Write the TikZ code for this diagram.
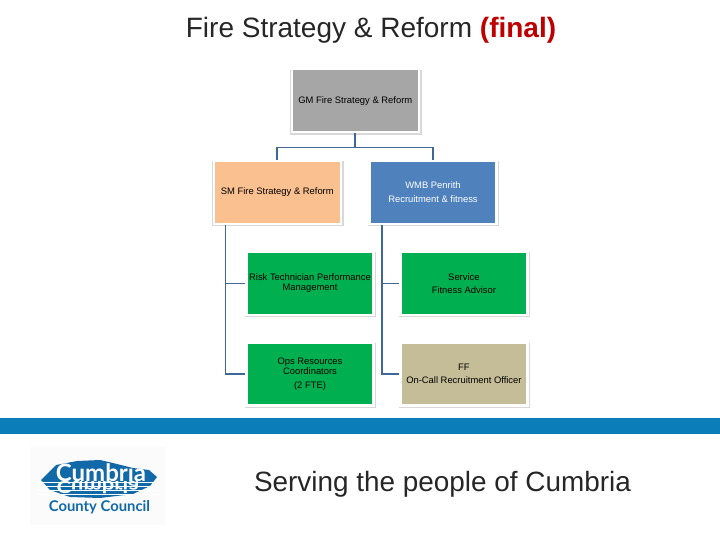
\documentclass[tikz,border=0pt]{standalone}
\usepackage{fontspec}
\setmainfont{Liberation Sans}
\newfontfamily\logofont{Lato}
\usepackage{xcolor}
\definecolor{cGrey}{HTML}{A6A6A6}
\definecolor{cPeach}{HTML}{FAC090}
\definecolor{cBlue}{HTML}{4F81BD}
\definecolor{cGreen}{HTML}{00B050}
\definecolor{cTan}{HTML}{C4BD97}
\definecolor{cLine}{HTML}{3F6797}
\definecolor{cBand}{HTML}{0B7DB8}
\definecolor{cLogo}{HTML}{1269A8}
\definecolor{cText}{HTML}{262626}
\usetikzlibrary{positioning,calc,shadows}
\tikzset{
  node-box/.style={draw=white,line width=2.4pt,minimum width=127pt,
    minimum height=63pt,inner sep=0pt,align=center,font=\fontsize{9.4}{10}\selectfont,
    drop shadow={shadow xshift=0.5pt,shadow yshift=-1.4pt,shadow scale=1.035,fill=black!30,opacity=.5}},
  link/.style={draw=cLine,line width=1.4pt},
  link-top/.style={draw=cLine,line width=1.8pt},
}
\begin{document}
\begin{tikzpicture}[x=1pt,y=-1pt]
  \useasboundingbox (0,0) rectangle (720,540);
  \node[font=\fontsize{28}{32}\selectfont,text=cText] (title) at (371,30) {Fire Strategy \& Reform \textcolor{red!75!black}{\textbf{(final)}}};
  % chart
  \node[node-box,fill=cGrey] (gm) at (355.3,100.8) {GM Fire Strategy \& Reform};
  \node[node-box,fill=cPeach] (sm) at (277.3,192.3) {SM Fire Strategy \& Reform};
  \node[node-box,fill=cBlue,text=white] (wmb) at (433,192.3) {WMB Penrith\\[4pt]Recruitment \& fitness};
  \node[node-box,fill=cGreen] (risk) at (310,283.2) {Risk Technician Performance\\Management};
  \node[node-box,fill=cGreen,right=24.5pt of risk] (service) {Service\\[3pt]Fitness Advisor};
  \node[node-box,fill=cGreen,below=25.5pt of risk] (ops) {Ops Resources\\Coordinators\\[4pt](2 FTE)};
  \node[node-box,fill=cTan,below=25.5pt of service] (ff) {FF\\[3pt]On-Call Recruitment Officer};
  \coordinate (bus) at ($(gm.south)+(0,14)$);
  \coordinate (smdrop) at ($(sm.south west)+(13,0)$);
  \coordinate (wmbdrop) at ($(wmb.south west)+(13.5,0)$);
  \draw[link-top] (gm.south) -- (bus);
  \draw[link-top] (bus) -| (sm.north);
  \draw[link-top] (bus) -| (wmb.north);
  \draw[link] (smdrop) |- (risk.west);
  \draw[link] (smdrop) |- (ops.west);
  \draw[link] (wmbdrop) |- (service.west);
  \draw[link] (wmbdrop) |- (ff.west);
  % footer
  \fill[cBand] (0,418) rectangle (720,433.5);
  \node[font=\fontsize{27.9}{32}\selectfont,text=cText] (strap) at (442.5,484) {Serving the people of Cumbria};
  % logo
  \fill[black!1.5] (30,447) rectangle (165,525);
  \fill[cLogo] (41,480) -- (56,465) -- (77,461) -- (100,460) -- (113,463) -- (133,468) -- (149,470) -- (157,477)
    -- (150,486) -- (133,494) -- (100,498) -- (70,497) -- (50,490) -- cycle;
  \node[font=\logofont\bfseries\fontsize{24}{26}\selectfont,text=white,inner sep=0pt] (cumbria) at (101,472.5) {Cumbria};
  \node[font=\logofont\bfseries\fontsize{22}{26}\selectfont,text=white,inner sep=0pt,yscale=-.75] (mirror) at (98,487.5) {Cumbria};
  \foreach \y in {482,486,490,494}
    \draw[white,line width=.8pt] (38,\y) -- (160,\y);
  \node[font=\logofont\bfseries\fontsize{14.8}{16}\selectfont,text=cLogo,inner sep=0pt] (council) at (99.5,507) {County Council};
\end{tikzpicture}
\end{document}
